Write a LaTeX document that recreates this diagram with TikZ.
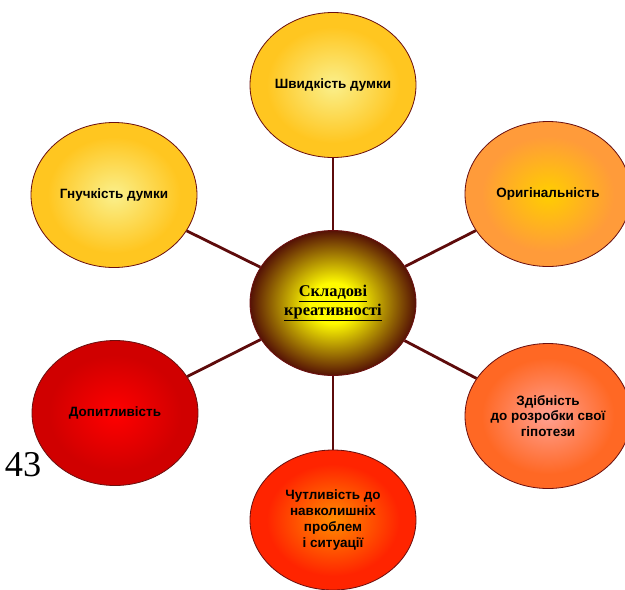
\documentclass[tikz,border=0pt]{standalone}
\usepackage{fontspec}
\setmainfont{Liberation Sans}
\newfontfamily\serifface{Liberation Serif}
\usepackage{xcolor}
\usetikzlibrary{shapes.geometric}

\definecolor{linkred}{HTML}{5E0B0B}
\definecolor{rimred}{HTML}{6B1010}
\colorlet{ballin}{white}
\colorlet{ballout}{white}
% the path edge sits at 25bp
\pgfdeclareradialshading[ballin,ballout]{ballshade}{\pgfpointorigin}{color(0bp)=(ballin); color(20bp)=(ballout); color(50bp)=(ballout)}
\pgfdeclareradialshading[ballin,ballout]{coreshade}{\pgfpointorigin}{color(0bp)=(ballin); color(7bp)=(ballin); color(25bp)=(ballout); color(50bp)=(ballout)}

\begin{document}
\begin{tikzpicture}[x=0.3mm, y=-0.3mm,
    ballin/.code={\colorlet{ballin}{#1}},
    ballout/.code={\colorlet{ballout}{#1}},
    bubble/.style={ellipse, draw=rimred, line width=0.7pt, shade, shading=ballshade,
      minimum width=4.98cm, minimum height=4.35cm, inner sep=0pt, align=center,
      font=\fontsize{11.5}{13.5}\selectfont\bfseries},
    link/.style={draw=linkred, line width=2.4pt}]
  \useasboundingbox (0,0) rectangle (625,589);
  \clip (0,0) rectangle (625,589);
      \node[bubble, shading=coreshade, ballin={rgb,255:red,255;green,250;blue,0}, ballout={rgb,255:red,85;green,18;blue,5},
        font=\serifface\fontsize{14}{16}\selectfont\bfseries] (K) at (333,303)
        {\underline{Складові}\\\underline{креативності}};
      \node[bubble, ballin={rgb,255:red,250;green,240;blue,140}, ballout={rgb,255:red,255;green,198;blue,32}] (Sh) at (333,85) {Швидкість думки};
      \node[bubble, ballin={rgb,255:red,250;green,240;blue,140}, ballout={rgb,255:red,255;green,198;blue,32}] (H) at (114,195) {Гнучкість думки};
      \node[bubble, ballin={rgb,255:red,255;green,206;blue,0}, ballout={rgb,255:red,255;green,155;blue,58}] (O) at (548,194) {Оригінальність};
      \node[bubble, ballin={rgb,255:red,255;green,160;blue,145}, ballout={rgb,255:red,255;green,104;blue,36}] (Z) at (548,416) {Здібність\\до розробки свої\\гіпотези};
      \node[bubble, minimum height=4.2cm, ballin={rgb,255:red,255;green,140;blue,0}, ballout={rgb,255:red,255;green,36;blue,0}] (Ch) at (333,520) {Чутливість до\\навколишніх\\проблем\\і ситуації};
      \node[bubble, ballin={rgb,255:red,255;green,0;blue,0}, ballout={rgb,255:red,208;green,0;blue,0}] (D) at (115,413) {Допитливість};
        % page number
      \node[font=\serifface\fontsize{31}{36}\selectfont] (N) at (23,465) {43};
      \draw[link] (K) -- (Sh);
      \draw[link] (K) -- (H);
      \draw[link] (K) -- (O);
      \draw[link] (K) -- (Z);
      \draw[link] (K) -- (Ch);
      \draw[link] (K) -- (D);
\end{tikzpicture}
\end{document}
